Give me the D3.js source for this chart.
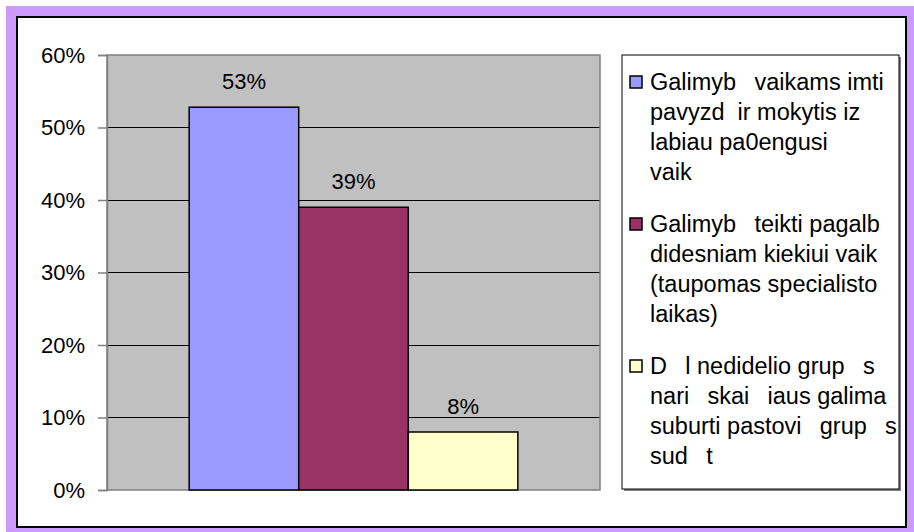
<!DOCTYPE html>
<html>
<head>
<meta charset="utf-8">
<script src="https://cdn.jsdelivr.net/npm/d3@7"></script>
<style>
  html, body { margin: 0; padding: 0; background: #ffffff; }
  svg text { font-family: "Liberation Sans", Arial, sans-serif; fill: #000; white-space: pre; }
</style>
</head>
<body>
<svg id="chart" width="914" height="532"></svg>
<script>
// ---- data ----
const seriesKeys = ["s1", "s2", "s3"];
const seriesValues = [0.528, 0.39, 0.08];
const seriesColors = ["#9999FF", "#993366", "#FFFFCC"];
const valueLabels = ["53%", "39%", "8%"];
const legendLines = [
  ["Galimyb\u2002 vaikams imti", "pavyzd  ir mokytis iz", "labiau pa0engusi", "vaik"],
  ["Galimyb\u2002 teikti pagalb", "didesniam kiekiui vaik", "(taupomas specialisto", "laikas)"],
  ["D\u2002 l nedidelio grup\u2002 s", "nari\u2002 skai\u2002 iaus galima", "suburti pastovi\u2002 grup\u2002 s", "sud\u2002 t"]
];
const yTicks = [0, 0.1, 0.2, 0.3, 0.4, 0.5, 0.6];
const yTickLabels = ["0%", "10%", "20%", "30%", "40%", "50%", "60%"];

// ---- layout ----
const svg = d3.select("#chart");
const W = 914, H = 532;
const plot = { left: 107, right: 600, top: 55, bottom: 490 };

// outer purple frame + white panel
svg.append("rect").attr("x", 6).attr("y", 6).attr("width", W - 6).attr("height", H - 6).attr("fill", "#CC99FF");
svg.append("rect").attr("x", 17).attr("y", 17).attr("width", 889).attr("height", 510)
  .attr("fill", "#ffffff").attr("stroke", "#000").attr("stroke-width", 2);

const y = d3.scaleLinear().domain([0, 0.6]).range([plot.bottom, plot.top]);
const x = d3.scaleBand().domain(seriesKeys).range([plot.left, plot.right])
  .paddingInner(0).paddingOuter(0.75);

// plot background
svg.append("rect").attr("x", plot.left).attr("y", plot.top)
  .attr("width", plot.right - plot.left).attr("height", plot.bottom - plot.top)
  .attr("fill", "#C0C0C0");

// gridlines
svg.append("g").selectAll("line").data(yTicks.filter(t => t > 0 && t < 0.6)).join("line")
  .attr("x1", plot.left).attr("x2", plot.right)
  .attr("y1", d => y(d)).attr("y2", d => y(d))
  .attr("stroke", "#000").attr("stroke-width", 1).attr("shape-rendering", "crispEdges");

// plot border
svg.append("rect").attr("x", plot.left).attr("y", plot.top)
  .attr("width", plot.right - plot.left).attr("height", plot.bottom - plot.top)
  .attr("fill", "none").attr("stroke", "#808080").attr("stroke-width", 1.5);

// y axis
const yAxis = d3.axisLeft(y).tickValues(yTicks).tickSize(9).tickPadding(13)
  .tickFormat((d, i) => yTickLabels[i]);
const ag = svg.append("g").attr("transform", `translate(${plot.left},0)`).call(yAxis);
ag.select(".domain").attr("stroke", "#808080").attr("stroke-width", 1.5);
ag.selectAll(".tick line").attr("stroke", "#808080").attr("stroke-width", 1.5);
ag.selectAll(".tick text").attr("font-size", 22).attr("fill", "#000")
  .style("font-family", '"Liberation Sans", Arial, sans-serif');

// bars
svg.append("g").selectAll("rect").data(seriesKeys).join("rect")
  .attr("x", d => x(d)).attr("width", x.bandwidth())
  .attr("y", (d, i) => y(seriesValues[i]))
  .attr("height", (d, i) => y(0) - y(seriesValues[i]))
  .attr("fill", (d, i) => seriesColors[i])
  .attr("stroke", "#000").attr("stroke-width", 1.5);

// data labels
svg.append("g").selectAll("text").data(seriesKeys).join("text")
  .attr("x", d => x(d) + x.bandwidth() / 2)
  .attr("y", (d, i) => y(seriesValues[i]) - 18)
  .attr("text-anchor", "middle").attr("font-size", 22)
  .text((d, i) => valueLabels[i]);

// legend
const lg = svg.append("g");
lg.append("rect").attr("x", 624).attr("y", 57).attr("width", 277).attr("height", 434).attr("fill", "#808080");
lg.append("rect").attr("x", 622).attr("y", 55).attr("width", 277).attr("height", 434)
  .attr("fill", "#fff").attr("stroke", "#000").attr("stroke-width", 1);
const lineStep = 30, itemGap = 22, firstCenter = 82;
legendLines.forEach((lines, i) => {
  const start = firstCenter + i * (lines.length * lineStep + itemGap);
  lg.append("rect").attr("x", 630).attr("y", start - 6).attr("width", 12).attr("height", 12)
    .attr("fill", seriesColors[i]).attr("stroke", "#000").attr("stroke-width", 1.5);
  lines.forEach((ln, j) => {
    lg.append("text").attr("x", 650).attr("y", start + j * lineStep)
      .attr("dy", "0.35em").attr("font-size", 23.5).text(ln);
  });
});
</script>
</body>
</html>
